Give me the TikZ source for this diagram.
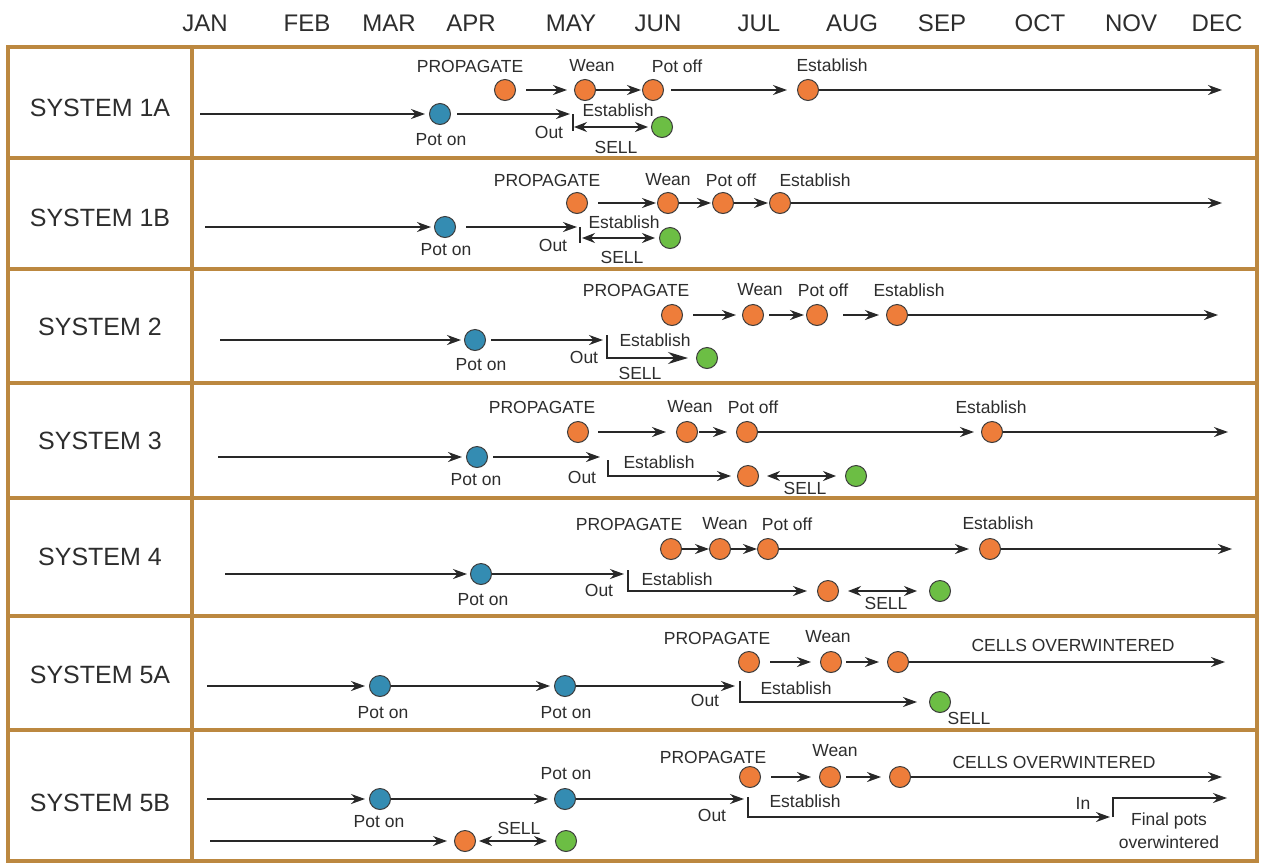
\documentclass[tikz,border=0pt]{standalone}
\usepackage{fontspec}
\setmainfont{Liberation Sans}
\usetikzlibrary{arrows.meta}
\definecolor{framec}{RGB}{188,136,64}
\definecolor{linec}{RGB}{40,40,40}
\definecolor{txtc}{RGB}{45,45,45}
\definecolor{orangec}{RGB}{238,125,58}
\definecolor{bluec}{RGB}{52,140,178}
\definecolor{greenc}{RGB}{108,190,68}
\definecolor{rimc}{RGB}{60,60,60}
\tikzset{
  frameline/.style={draw=framec, line width=4pt},
  ln/.style={draw=linec, line width=1.5pt},
  arr/.style={ln, -{Stealth[length=14pt,width=10pt]}},
  bigarr/.style={ln, -{Stealth[length=20pt,width=12pt]}},
  dbl/.style={ln, {Stealth[length=13pt,width=10pt]}-{Stealth[length=13pt,width=10pt]}},
  dot/.style={circle, draw=rimc, line width=1pt, minimum size=21pt, inner sep=0pt},
  org/.style={dot, fill=orangec},
  blu/.style={dot, fill=bluec},
  grn/.style={dot, fill=greenc},
  lbl/.style={text=txtc, inner sep=0pt, font=\fontsize{17.5}{20}\selectfont},
  mon/.style={text=txtc, inner sep=0pt, font=\fontsize{24}{28}\selectfont},
  sys/.style={text=txtc, inner sep=0pt, font=\fontsize{25}{30}\selectfont},
}
\begin{document}
\begin{tikzpicture}[x=1pt,y=-1pt]
\useasboundingbox[fill=white] (0,0) rectangle (1261,863);

% month header
\foreach \m/\x in {JAN/205,FEB/307,MAR/389,APR/471,MAY/571,JUN/658,JUL/759,AUG/852,SEP/942,OCT/1040,NOV/1131,DEC/1217}
  \node[mon] (m\m) at (\x,23) {\m};

% table frame
\draw[frameline] (8,47) rectangle (1257,861);
\draw[frameline] (192,47) -- (192,861);
\foreach \y in {158,269,383,498,616,730}
  \draw[frameline] (8,\y) -- (1257,\y);

% system names
\node[sys] (s1a) at (100,108) {SYSTEM 1A};
\node[sys] (s1b) at (100,218) {SYSTEM 1B};
\node[sys] (s2)  at (100,327) {SYSTEM 2};
\node[sys] (s3)  at (100,441) {SYSTEM 3};
\node[sys] (s4)  at (100,557) {SYSTEM 4};
\node[sys] (s5a) at (100,675) {SYSTEM 5A};
\node[sys] (s5b) at (100,803) {SYSTEM 5B};

% ---------------- SYSTEM 1A ----------------
\coordinate (a0) at (200,114);
\node[blu] (a1) at (440,114) {};
\coordinate (a1o) at (573,114);
\coordinate (a1t) at (573,131);
\coordinate (a1d) at (574,127);
\node[grn] (a6) at (662,127) {};
\node[org] (a2) at (505,90) {};
\node[org] (a3) at (585,90) {};
\node[org] (a4) at (653,90) {};
\node[org] (a5) at (808,90) {};
\coordinate (a7) at (1222,90);
\draw[arr, shorten >=4pt] (a0) -- (a1);
\draw[arr, shorten <=6pt, shorten >=3pt] (a1) -- (a1o);
\draw[ln] (a1o) -- (a1t);
\draw[dbl, shorten >=3pt] (a1d) -- (a6);
\draw[arr, shorten <=10pt, shorten >=7pt] (a2) -- (a3);
\draw[arr, shorten >=1pt] (a3) -- (a4);
\draw[arr, shorten <=7pt, shorten >=10pt] (a4) -- (a5);
\draw[arr] (a5) -- (a7);
\node[lbl] (a1l) at (441,140) {Pot on};
\node[lbl] (a1ol) at (549,132) {Out};
\node[lbl] (a6e) at (618,110) {Establish};
\node[lbl] (a6s) at (616,147) {SELL};
\node[lbl] (a2l) at (470,66) {PROPAGATE};
\node[lbl] (a3l) at (592,66) {Wean};
\node[lbl] (a4l) at (677,66) {Pot off};
\node[lbl] (a5l) at (832,65) {Establish};

% ---------------- SYSTEM 1B ----------------
\coordinate (b0) at (205,227);
\node[blu] (b1) at (445,227) {};
\coordinate (b1o) at (580,227);
\coordinate (b1t) at (580,243);
\coordinate (b1d) at (582,238);
\node[grn] (b2) at (670,238) {};
\node[org] (b3) at (577,203) {};
\node[org] (b4) at (668,203) {};
\node[org] (b5) at (723,203) {};
\node[org] (b6) at (780,203) {};
\coordinate (b7) at (1222,203);
\draw[arr, shorten >=3pt] (b0) -- (b1);
\draw[arr, shorten <=10pt, shorten >=3pt] (b1) -- (b1o);
\draw[ln] (b1o) -- (b1t);
\draw[dbl, shorten >=4pt] (b1d) -- (b2);
\draw[arr, shorten <=10pt, shorten >=1pt] (b3) -- (b4);
\draw[arr, shorten >=1pt] (b4) -- (b5);
\draw[arr, shorten >=1pt] (b5) -- (b6);
\draw[arr] (b6) -- (b7);
\node[lbl] (b1l) at (446,250) {Pot on};
\node[lbl] (b1ol) at (553,245) {Out};
\node[lbl] (b2e) at (624,222) {Establish};
\node[lbl] (b2s) at (622,257) {SELL};
\node[lbl] (b3l) at (547,180) {PROPAGATE};
\node[lbl] (b4l) at (668,180) {Wean};
\node[lbl] (b5l) at (731,180) {Pot off};
\node[lbl] (b6l) at (815,180) {Establish};

% ---------------- SYSTEM 2 ----------------
\coordinate (c0) at (220,340);
\node[blu] (c1) at (475,340) {};
\coordinate (c1o) at (603,340);
\coordinate (c1k) at (607,335);
\coordinate (c1c) at (607,358);
\node[grn] (c2) at (707,358) {};
\node[org] (c3) at (672,315) {};
\node[org] (c4) at (753,315) {};
\node[org] (c5) at (817,315) {};
\node[org] (c6) at (897,315) {};
\coordinate (c7) at (1218,315);
\draw[arr, shorten >=3pt] (c0) -- (c1);
\draw[arr, shorten <=5pt] (c1) -- (c1o);
\draw[bigarr, shorten >=8pt] (c1k) -- (c1c) -- (c2);
\draw[arr, shorten <=10pt, shorten >=6pt] (c3) -- (c4);
\draw[arr, shorten <=5pt, shorten >=2pt] (c4) -- (c5);
\draw[arr, shorten <=15pt, shorten >=7pt] (c5) -- (c6);
\draw[arr] (c6) -- (c7);
\node[lbl] (c1l) at (481,365) {Pot on};
\node[lbl] (c1ol) at (584,357) {Out};
\node[lbl] (c2e) at (655,340) {Establish};
\node[lbl] (c2s) at (640,373) {SELL};
\node[lbl] (c3l) at (636,290) {PROPAGATE};
\node[lbl] (c4l) at (760,290) {Wean};
\node[lbl] (c5l) at (823,290) {Pot off};
\node[lbl] (c6l) at (909,290) {Establish};

% ---------------- SYSTEM 3 ----------------
\coordinate (d0) at (218,457);
\node[blu] (d1) at (477,457) {};
\coordinate (d1o) at (600,457);
\coordinate (d1k) at (608,460);
\coordinate (d1c) at (608,476);
\node[org] (d2) at (748,476) {};
\node[grn] (d3) at (856,476) {};
\node[org] (d4) at (578,432) {};
\node[org] (d5) at (687,432) {};
\node[org] (d6) at (747,432) {};
\node[org] (d7) at (992,432) {};
\coordinate (d8) at (1228,432);
\draw[arr, shorten >=4pt] (d0) -- (d1);
\draw[arr, shorten <=5pt] (d1) -- (d1o);
\draw[arr, shorten >=6pt] (d1k) -- (d1c) -- (d2);
\draw[dbl, shorten <=8pt, shorten >=9pt] (d2) -- (d3);
\draw[arr, shorten <=9pt, shorten >=10pt] (d4) -- (d5);
\draw[arr, shorten <=1pt, shorten >=9pt] (d5) -- (d6);
\draw[arr, shorten >=7pt] (d6) -- (d7);
\draw[arr] (d7) -- (d8);
\node[lbl] (d1l) at (476,480) {Pot on};
\node[lbl] (d1ol) at (582,477) {Out};
\node[lbl] (d2e) at (659,462) {Establish};
\node[lbl] (d3s) at (805,488) {SELL};
\node[lbl] (d4l) at (542,407) {PROPAGATE};
\node[lbl] (d5l) at (690,407) {Wean};
\node[lbl] (d6l) at (753,407) {Pot off};
\node[lbl] (d7l) at (991,407) {Establish};

% ---------------- SYSTEM 4 ----------------
\coordinate (e0) at (225,574);
\node[blu] (e1) at (481,574) {};
\coordinate (e1o) at (624,574);
\coordinate (e1k) at (628,570);
\coordinate (e1c) at (628,591);
\node[org] (e2) at (828,591) {};
\node[grn] (e3) at (940,591) {};
\node[org] (e4) at (671,549) {};
\node[org] (e5) at (720,549) {};
\node[org] (e6) at (768,549) {};
\node[org] (e7) at (990,549) {};
\coordinate (e8) at (1232,549);
\draw[arr, shorten >=3pt] (e0) -- (e1);
\draw[arr] (e1) -- (e1o);
\draw[arr, shorten >=10pt] (e1k) -- (e1c) -- (e2);
\draw[dbl, shorten <=9pt, shorten >=12pt] (e2) -- (e3);
\draw[arr] (e4) -- (e5);
\draw[arr] (e5) -- (e6);
\draw[arr, shorten >=10pt] (e6) -- (e7);
\draw[arr] (e7) -- (e8);
\node[lbl] (e1l) at (483,600) {Pot on};
\node[lbl] (e1ol) at (599,590) {Out};
\node[lbl] (e2e) at (677,579) {Establish};
\node[lbl] (e3s) at (886,603) {SELL};
\node[lbl] (e4l) at (629,524) {PROPAGATE};
\node[lbl] (e5l) at (725,524) {Wean};
\node[lbl] (e6l) at (787,524) {Pot off};
\node[lbl] (e7l) at (998,523) {Establish};

% ---------------- SYSTEM 5A ----------------
\coordinate (f0) at (207,686);
\node[blu] (f1) at (380,686) {};
\node[blu] (f2) at (565,686) {};
\coordinate (f2o) at (735,686);
\coordinate (f2k) at (740,681);
\coordinate (f2c) at (740,702);
\node[grn] (f3) at (940,702) {};
\node[org] (f4) at (749,662) {};
\node[org] (f5) at (831,662) {};
\node[org] (f6) at (898,662) {};
\coordinate (f7) at (1225,662);
\draw[arr, shorten >=4pt] (f0) -- (f1);
\draw[arr, shorten >=4pt] (f1) -- (f2);
\draw[arr] (f2) -- (f2o);
\draw[arr, shorten >=12pt] (f2k) -- (f2c) -- (f3);
\draw[arr, shorten <=10pt, shorten >=9pt] (f4) -- (f5);
\draw[arr, shorten <=4pt, shorten >=8pt] (f5) -- (f6);
\draw[arr] (f6) -- (f7);
\node[lbl] (f1l) at (383,713) {Pot on};
\node[lbl] (f2l) at (566,713) {Pot on};
\node[lbl] (f2ol) at (705,700) {Out};
\node[lbl] (f3e) at (796,688) {Establish};
\node[lbl] (f3s) at (969,718) {SELL};
\node[lbl] (f4l) at (717,638) {PROPAGATE};
\node[lbl] (f5l) at (828,637) {Wean};
\node[lbl] (f6l) at (1073,645) {CELLS OVERWINTERED};

% ---------------- SYSTEM 5B ----------------
\coordinate (g0) at (207,799);
\node[blu] (g1) at (380,799) {};
\node[blu] (g2) at (565,799) {};
\coordinate (g2o) at (744,799);
\coordinate (g2k) at (748,797);
\coordinate (g2c) at (748,817);
\coordinate (g2i) at (1110,817);
\coordinate (g2j) at (1113,817);
\coordinate (g2u) at (1113,798);
\coordinate (g2e) at (1227,798);
\node[org] (g3) at (750,777) {};
\node[org] (g4) at (830,777) {};
\node[org] (g5) at (900,777) {};
\coordinate (g8) at (1222,777);
\coordinate (g6s) at (210,841);
\node[org] (g6) at (465,841) {};
\node[grn] (g7) at (566,841) {};
\draw[arr, shorten >=4pt] (g0) -- (g1);
\draw[arr, shorten >=6pt] (g1) -- (g2);
\draw[arr] (g2) -- (g2o);
\draw[arr] (g2k) -- (g2c) -- (g2i);
\draw[arr] (g2j) -- (g2u) -- (g2e);
\draw[arr, shorten <=10pt, shorten >=8pt] (g3) -- (g4);
\draw[arr, shorten <=5pt, shorten >=8pt] (g4) -- (g5);
\draw[arr] (g5) -- (g8);
\draw[arr, shorten >=7pt] (g6s) -- (g6);
\draw[dbl, shorten <=3pt, shorten >=8pt] (g6) -- (g7);
\node[lbl] (g1l) at (379,822) {Pot on};
\node[lbl] (g2l) at (566,774) {Pot on};
\node[lbl] (g2ol) at (712,815) {Out};
\node[lbl] (g2el) at (805,801) {Establish};
\node[lbl] (g2in) at (1083,803) {In};
\node[lbl] (g2f1) at (1169,821) {Final pots};
\node[lbl] (g2f2) at (1169,842) {overwintered};
\node[lbl] (g3l) at (713,757) {PROPAGATE};
\node[lbl] (g4l) at (835,751) {Wean};
\node[lbl] (g5l) at (1054,762) {CELLS OVERWINTERED};
\node[lbl] (g7s) at (519,828) {SELL};
\end{tikzpicture}
\end{document}
